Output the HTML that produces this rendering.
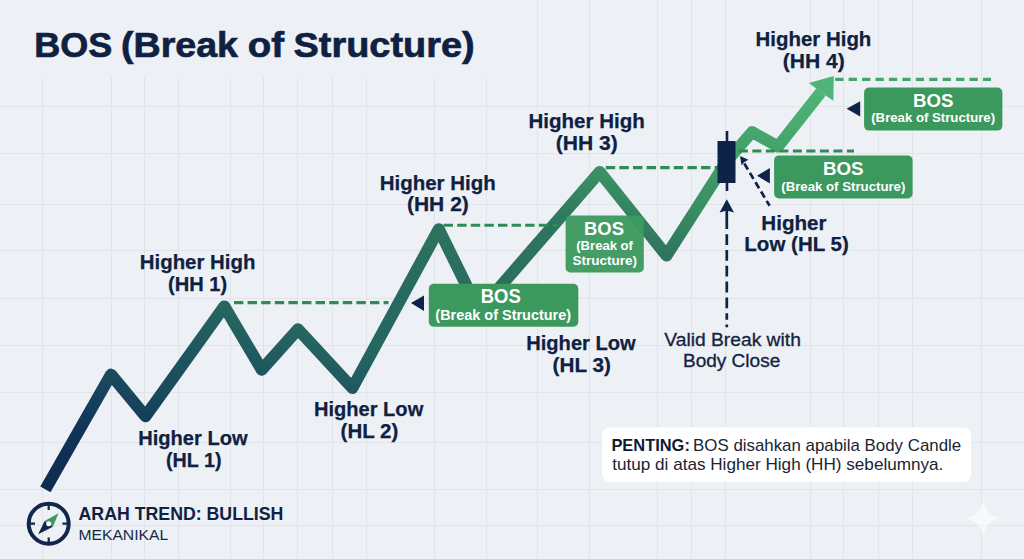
<!DOCTYPE html>
<html lang="id">
<head>
<meta charset="utf-8">
<title>BOS (Break of Structure)</title>
<style>
  html,body{margin:0;padding:0;background:#edf0f4;}
  body{width:1024px;height:559px;overflow:hidden;font-family:"Liberation Sans",sans-serif;}
  svg{display:block;}
  text{font-family:"Liberation Sans",sans-serif;}
</style>
</head>
<body>
<svg width="1024" height="559" viewBox="0 0 1024 559">
  <defs>
    <linearGradient id="lg" gradientUnits="userSpaceOnUse" x1="46" y1="489" x2="219" y2="-88.5">
      <stop offset="0" stop-color="#0e2c50"/>
      <stop offset="0.11" stop-color="#113358"/>
      <stop offset="0.165" stop-color="#15405c"/>
      <stop offset="0.21" stop-color="#1a4a5d"/>
      <stop offset="0.29" stop-color="#1e565f"/>
      <stop offset="0.37" stop-color="#256660"/>
      <stop offset="0.45" stop-color="#276860"/>
      <stop offset="0.52" stop-color="#2a6c5f"/>
      <stop offset="0.6" stop-color="#2d725e"/>
      <stop offset="0.667" stop-color="#2e755e"/>
      <stop offset="0.767" stop-color="#3a9164"/>
      <stop offset="0.9" stop-color="#45a56c"/>
      <stop offset="1" stop-color="#4fb477"/>
    </linearGradient>
    <filter id="sh" x="-10%" y="-20%" width="120%" height="140%">
      <feGaussianBlur stdDeviation="1.2"/>
    </filter>
  </defs>
  <rect width="1024" height="559" fill="#edf0f4"/>

  <!-- grid -->
  <g stroke="#e1e4e9" stroke-width="1" fill="none" shape-rendering="crispEdges">
    <path d="M42.5 77V559M111.5 77V559M144.5 77V559M178.5 77V559M230.5 77V559M263.5 77V559M297.5 77V559M332.5 77V559M366.5 77V559M434.5 77V559M486.5 77V559"/>
    <path d="M537.5 0V559M589.5 0V559M657.5 0V559M691.5 0V559M725.5 0V559M810.5 0V559M843.5 0V559M878.5 0V559M912.5 0V559M981.5 0V559"/>
    <path d="M0 106.5H1024M0 153.5H1024M0 204.5H1024M0 250.5H1024M0 298.5H1024M0 345.5H1024M0 392.5H1024M0 442.5H1024M0 489.5H1024M0 525.5H1024"/>
  </g>

  <!-- price line -->
  <polyline fill="none" stroke="url(#lg)" stroke-width="11.8" stroke-linejoin="round" stroke-linecap="butt"
    points="45.4,489.4 111,374.5"/>
  <polyline fill="none" stroke="url(#lg)" stroke-width="12" stroke-linejoin="round" stroke-linecap="round"
    points="111.1,374.6 145.5,416.3 224.3,306.4 261.7,369.7 298,329.2 352.4,388 438.8,229.2 479,311 599.7,172 666.5,255.5 727,161"/>
  <polyline fill="none" stroke="url(#lg)" stroke-width="11.8" stroke-linejoin="round" stroke-linecap="butt"
    points="727,161 752,132 778,146.5 821,92"/>
  <polygon points="833.8,76 808.9,82.9 820,91.5 833.3,100.7" fill="#4fb477"/>

  <!-- dashed structure levels -->
  <g stroke="#2f8a55" stroke-width="3.2" fill="none" stroke-dasharray="9.4 4.2">
    <path d="M234 302.6H388.5"/>
    <path d="M443.6 225.2H559" stroke-width="3"/>
    <path d="M605.8 167.6H718" stroke-width="3.1"/>
    <path d="M738.9 151H854" stroke-dasharray="9 4.5"/>
    <path d="M835.2 79.3H991" stroke="#45a46b" stroke-dasharray="8.3 5.13"/>
  </g>

  <!-- BOS boxes -->
  <g>
    <rect x="565.6" y="215.4" width="78.2" height="57" rx="4.5" fill="#3b995e" fill-opacity="0.96"/>
  <text x="584.07" y="234.80" font-size="18.7" font-weight="700" fill="#ffffff" textLength="39.95" lengthAdjust="spacingAndGlyphs">BOS</text>
  <text x="576.25" y="250.30" font-size="13.2" font-weight="700" fill="#ffffff" textLength="56.73" lengthAdjust="spacingAndGlyphs">(Break of</text>
  <text x="572.61" y="264.70" font-size="13.2" font-weight="700" fill="#ffffff" textLength="64.46" lengthAdjust="spacingAndGlyphs">Structure)</text>

    <rect x="428.8" y="283.8" width="149.5" height="43" rx="5" fill="#3b995e"/>
  <text x="480.76" y="303.30" font-size="19.5" font-weight="700" fill="#ffffff" textLength="40.06" lengthAdjust="spacingAndGlyphs">BOS</text>
  <text x="435.38" y="319.50" font-size="14" font-weight="700" fill="#ffffff" textLength="135.64" lengthAdjust="spacingAndGlyphs">(Break of Structure)</text>

    <rect x="774.1" y="155.4" width="138.5" height="43.1" rx="5" fill="#3b995e"/>
  <text x="822.94" y="175.00" font-size="18.7" font-weight="700" fill="#ffffff" textLength="40.69" lengthAdjust="spacingAndGlyphs">BOS</text>
  <text x="781.24" y="190.60" font-size="13.2" font-weight="700" fill="#ffffff" textLength="124.12" lengthAdjust="spacingAndGlyphs">(Break of Structure)</text>

    <rect x="864.1" y="87.5" width="138.3" height="43.1" rx="5" fill="#3b995e"/>
  <text x="912.95" y="106.90" font-size="18.7" font-weight="700" fill="#ffffff" textLength="40.37" lengthAdjust="spacingAndGlyphs">BOS</text>
  <text x="871.24" y="122.30" font-size="13.2" font-weight="700" fill="#ffffff" textLength="123.81" lengthAdjust="spacingAndGlyphs">(Break of Structure)</text>
  </g>

  <!-- dark pointer triangles -->
  <g fill="#0f2348">
    <polygon points="411,303 424,295.5 424,311"/>
    <polygon points="757,175.7 769.9,167.9 769.9,183.5"/>
    <polygon points="846.6,108.7 860.2,101.2 860.2,116.4"/>
  </g>

  <!-- candle -->
  <g>
    <rect x="725.7" y="131" width="2.6" height="60" fill="#0f2348"/>
    <rect x="717.5" y="141" width="18" height="42" fill="#0f2348"/>
  </g>

  <!-- vertical dashed arrow -->
  <g>
    <polygon points="726.8,199.3 719.6,212.6 726.8,210.4 734,212.6" fill="#0f2348"/>
    <path d="M726.8 210V229M726.8 324.6V327.2" stroke="#0f2348" stroke-width="2.7" fill="none"/>
    <path d="M726.8 234.2V319.8" stroke="#0f2348" stroke-width="2.7" stroke-dasharray="10.8 5" fill="none"/>
  </g>
  <!-- diagonal dashed arrow -->
  <g>
    <path d="M744.3 163.5L769.6 205.8" stroke="#0f2348" stroke-width="2.7" stroke-dasharray="7 3.9" fill="none"/>
    <polygon points="740,156 748.3,159.8 744.2,162.2 741.5,165.2" fill="#0f2348"/>
  </g>

  <!-- labels -->
  <text y="56.9" font-size="35.6" font-weight="700" fill="#0f2142" stroke="#0f2142" stroke-width="0.7"><tspan x="34.3" textLength="78" lengthAdjust="spacingAndGlyphs">BOS</tspan> <tspan x="121" textLength="117" lengthAdjust="spacingAndGlyphs">(Break</tspan> <tspan x="247.7" textLength="36.3" lengthAdjust="spacingAndGlyphs">of</tspan> <tspan x="293.6" textLength="181" lengthAdjust="spacingAndGlyphs">Structure)</tspan></text>

  <text x="139.84" y="268.50" font-size="20" font-weight="700" fill="#0f2142" textLength="115.53" lengthAdjust="spacingAndGlyphs" stroke="#0f2142" stroke-width="0.25">Higher High</text>
  <text x="168.00" y="290.80" font-size="20" font-weight="700" fill="#0f2142" textLength="59.10" lengthAdjust="spacingAndGlyphs" stroke="#0f2142" stroke-width="0.25">(HH 1)</text>
  <text x="138.26" y="444.70" font-size="20" font-weight="700" fill="#0f2142" textLength="109.30" lengthAdjust="spacingAndGlyphs" stroke="#0f2142" stroke-width="0.25">Higher Low</text>
  <text x="165.92" y="466.90" font-size="20" font-weight="700" fill="#0f2142" textLength="55.57" lengthAdjust="spacingAndGlyphs" stroke="#0f2142" stroke-width="0.25">(HL 1)</text>
  <text x="379.83" y="189.60" font-size="20" font-weight="700" fill="#0f2142" textLength="115.84" lengthAdjust="spacingAndGlyphs" stroke="#0f2142" stroke-width="0.25">Higher High</text>
  <text x="406.95" y="211.40" font-size="20" font-weight="700" fill="#0f2142" textLength="61.89" lengthAdjust="spacingAndGlyphs" stroke="#0f2142" stroke-width="0.25">(HH 2)</text>
  <text x="313.96" y="416.10" font-size="20" font-weight="700" fill="#0f2142" textLength="109.30" lengthAdjust="spacingAndGlyphs" stroke="#0f2142" stroke-width="0.25">Higher Low</text>
  <text x="340.58" y="438.20" font-size="20" font-weight="700" fill="#0f2142" textLength="57.74" lengthAdjust="spacingAndGlyphs" stroke="#0f2142" stroke-width="0.25">(HL 2)</text>
  <text x="528.43" y="128.30" font-size="20" font-weight="700" fill="#0f2142" textLength="116.35" lengthAdjust="spacingAndGlyphs" stroke="#0f2142" stroke-width="0.25">Higher High</text>
  <text x="555.85" y="150.10" font-size="20" font-weight="700" fill="#0f2142" textLength="62.00" lengthAdjust="spacingAndGlyphs" stroke="#0f2142" stroke-width="0.25">(HH 3)</text>
  <text x="526.26" y="349.70" font-size="20" font-weight="700" fill="#0f2142" textLength="109.40" lengthAdjust="spacingAndGlyphs" stroke="#0f2142" stroke-width="0.25">Higher Low</text>
  <text x="552.57" y="371.70" font-size="20" font-weight="700" fill="#0f2142" textLength="58.26" lengthAdjust="spacingAndGlyphs" stroke="#0f2142" stroke-width="0.25">(HL 3)</text>
  <text x="755.63" y="46.30" font-size="20" font-weight="700" fill="#0f2142" textLength="115.73" lengthAdjust="spacingAndGlyphs" stroke="#0f2142" stroke-width="0.25">Higher High</text>
  <text x="782.65" y="67.90" font-size="20" font-weight="700" fill="#0f2142" textLength="62.10" lengthAdjust="spacingAndGlyphs" stroke="#0f2142" stroke-width="0.25">(HH 4)</text>
  <text x="761.37" y="229.50" font-size="20" font-weight="700" fill="#0f2142" textLength="65.24" lengthAdjust="spacingAndGlyphs" stroke="#0f2142" stroke-width="0.25">Higher</text>
  <text x="744.33" y="251.20" font-size="20" font-weight="700" fill="#0f2142" textLength="104.49" lengthAdjust="spacingAndGlyphs" stroke="#0f2142" stroke-width="0.25">Low (HL 5)</text>

  <text x="664.32" y="346.20" font-size="18.3" fill="#14233f" textLength="136.53" lengthAdjust="spacingAndGlyphs" stroke="#14233f" stroke-width="0.3">Valid Break with</text>
  <text x="682.94" y="367.10" font-size="18.3" fill="#14233f" textLength="97.31" lengthAdjust="spacingAndGlyphs" stroke="#14233f" stroke-width="0.3">Body Close</text>

  <!-- note box -->
  <rect x="602.1" y="427.6" width="369" height="54.2" rx="7" fill="#ffffff"/>
  <text x="611.40" y="450.70" font-size="17" font-weight="700" fill="#0f1c36" textLength="78.48" lengthAdjust="spacingAndGlyphs">PENTING:</text>
  <text x="693.12" y="450.70" font-size="17" fill="#1b2433" textLength="268.03" lengthAdjust="spacingAndGlyphs">BOS disahkan apabila Body Candle</text>
  <text x="612.24" y="470.00" font-size="17" fill="#1b2433" textLength="331.12" lengthAdjust="spacingAndGlyphs">tutup di atas Higher High (HH) sebelumnya.</text>

  <!-- footer -->
  <g>
    <circle cx="48.7" cy="523.7" r="20" fill="none" stroke="#11264a" stroke-width="4"/>
    <path d="M48.7 505.2V510M48.7 537.4V542.2M30.2 523.7H35M62.4 523.7H67.2" stroke="#11264a" stroke-width="2.2" fill="none"/>
    <polygon points="58.5,513.2 44.6,521 52.9,526.7" fill="#3d9a5f"/>
    <polygon points="38.2,534.3 44.6,521 52.9,526.7" fill="#11264a"/>
    <circle cx="48.7" cy="523.8" r="2.5" fill="#ffffff"/>
  </g>
  <text x="78.56" y="520.20" font-size="17.5" font-weight="700" fill="#0f2142" textLength="204.84" lengthAdjust="spacingAndGlyphs">ARAH TREND: BULLISH</text>
  <text x="78.41" y="540.00" font-size="14.5" fill="#1b2a44" textLength="89.81" lengthAdjust="spacingAndGlyphs">MEKANIKAL</text>

  <!-- sparkle -->
  <path d="M983.2 500.8C986.4 512.0 989.4 515.0 1000.6 518.2C989.4 521.4 986.4 524.4 983.2 535.6C980.0 524.4 977.0 521.4 965.8 518.2C977.0 515.0 980.0 512.0 983.2 500.8Z" fill="#ffffff" opacity="0.62"/>
</svg>
</body>
</html>
